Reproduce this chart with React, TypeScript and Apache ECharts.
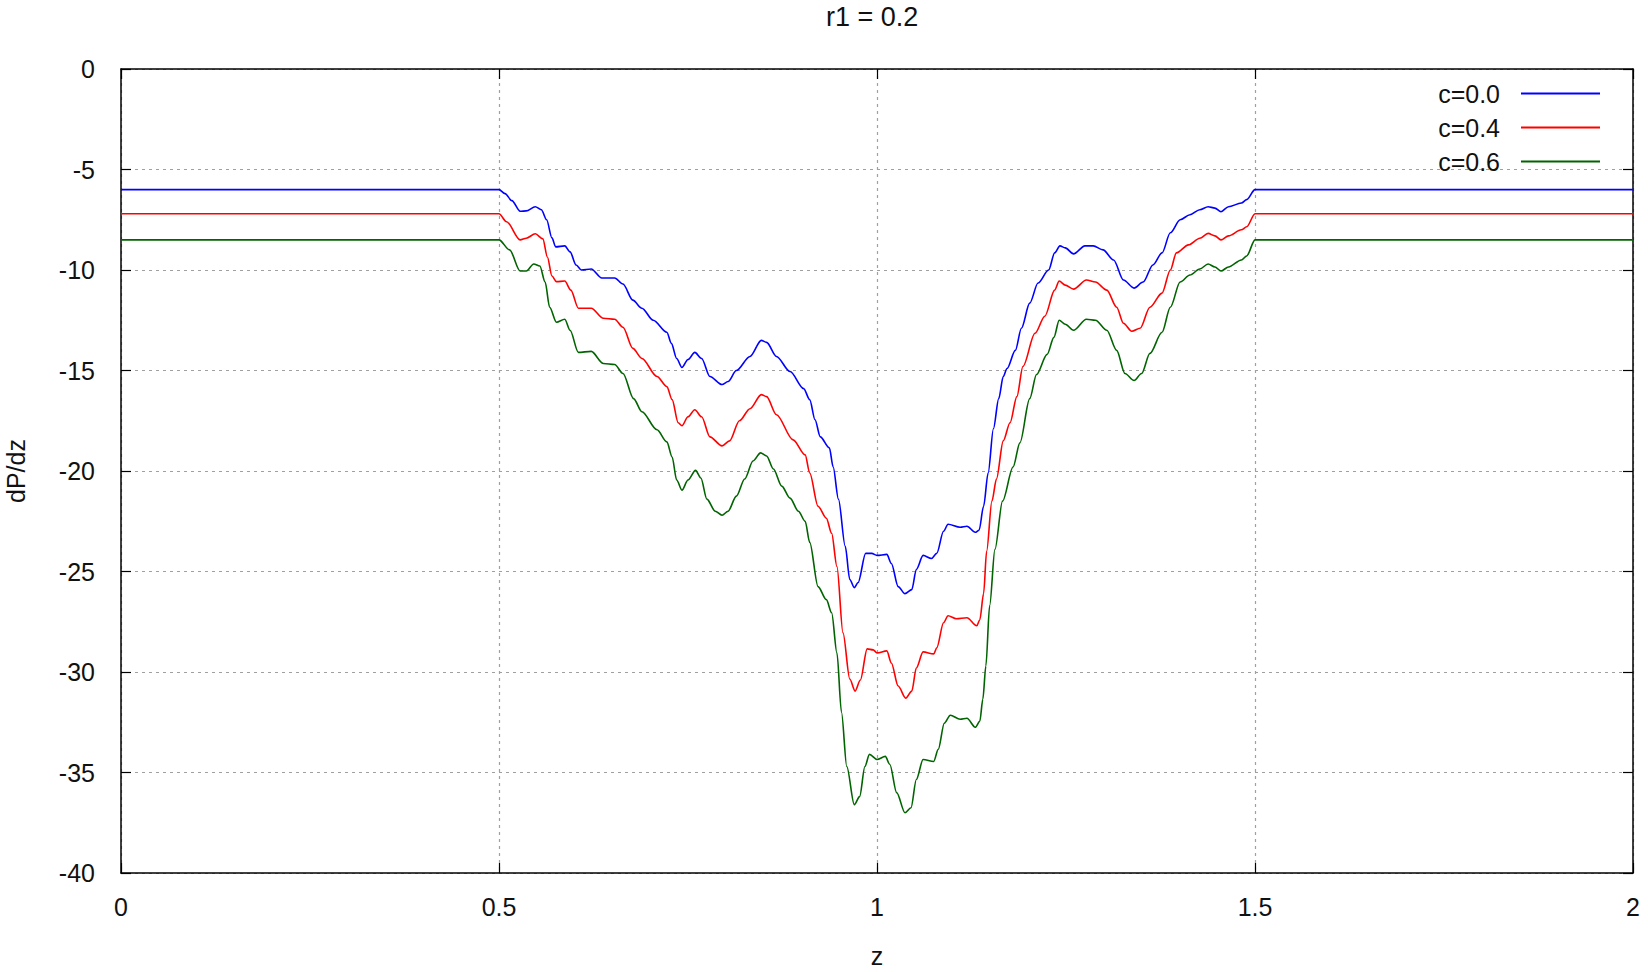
import React, { useEffect, useRef } from "react";
import * as echarts from "echarts";

const TITLE = "r1 = 0.2";
const X_NAME = "z";
const Y_NAME = "dP/dz";
const SERIES_NAMES = ["c=0.0", "c=0.4", "c=0.6"];
const SERIES_COLORS = ["#0000ff", "#ff0000", "#006400"];

const blueZ = [0, 0.5, 0.508, 0.517, 0.528, 0.536, 0.548, 0.556, 0.563, 0.57, 0.575, 0.587, 0.594, 0.602, 0.609, 0.622, 0.636, 0.653, 0.664, 0.677, 0.689, 0.704, 0.722, 0.728, 0.735, 0.742, 0.75, 0.759, 0.768, 0.779, 0.795, 0.803, 0.814, 0.832, 0.847, 0.854, 0.867, 0.885, 0.903, 0.911, 0.918, 0.925, 0.937, 0.942, 0.949, 0.958, 0.964, 0.97, 0.975, 0.985, 0.993, 1.0, 1.013, 1.019, 1.028, 1.037, 1.046, 1.052, 1.061, 1.072, 1.079, 1.088, 1.094, 1.11, 1.119, 1.13, 1.135, 1.141, 1.147, 1.154, 1.161, 1.167, 1.172, 1.183, 1.191, 1.202, 1.213, 1.227, 1.235, 1.242, 1.249, 1.26, 1.275, 1.286, 1.299, 1.313, 1.326, 1.34, 1.352, 1.365, 1.377, 1.388, 1.401, 1.414, 1.427, 1.438, 1.447, 1.455, 1.465, 1.482, 1.489, 1.5, 2];
const blueY = [-6.0, -6.0, -6.2, -6.55, -7.08, -7.06, -6.85, -7.0, -7.5, -8.4, -8.85, -8.8, -9.1, -9.75, -10.0, -9.95, -10.4, -10.4, -10.7, -11.5, -11.9, -12.5, -13.1, -13.65, -14.4, -14.85, -14.45, -14.1, -14.4, -15.3, -15.7, -15.55, -15.0, -14.3, -13.5, -13.6, -14.3, -15.05, -15.9, -16.45, -17.45, -18.3, -18.85, -19.8, -21.4, -23.75, -25.4, -25.8, -25.55, -24.1, -24.1, -24.2, -24.15, -24.6, -25.75, -26.1, -25.9, -24.9, -24.2, -24.35, -24.1, -23.0, -22.65, -22.8, -22.75, -23.05, -22.95, -21.75, -20.1, -17.9, -16.4, -15.3, -14.9, -14.0, -12.9, -11.65, -10.65, -10.0, -9.15, -8.8, -8.9, -9.2, -8.8, -8.8, -9.0, -9.5, -10.5, -10.9, -10.6, -9.75, -9.15, -8.15, -7.5, -7.25, -7.0, -6.85, -6.92, -7.1, -6.85, -6.67, -6.5, -6.0, -6.0];

const redZ = [0, 0.5, 0.51, 0.528, 0.536, 0.548, 0.558, 0.564, 0.57, 0.576, 0.587, 0.595, 0.605, 0.622, 0.638, 0.653, 0.664, 0.677, 0.689, 0.709, 0.722, 0.729, 0.737, 0.742, 0.75, 0.759, 0.768, 0.779, 0.795, 0.805, 0.818, 0.832, 0.847, 0.854, 0.867, 0.889, 0.905, 0.911, 0.922, 0.933, 0.94, 0.947, 0.955, 0.964, 0.971, 0.978, 0.987, 0.995, 1.0, 1.013, 1.019, 1.028, 1.038, 1.046, 1.052, 1.061, 1.075, 1.079, 1.088, 1.094, 1.105, 1.119, 1.132, 1.136, 1.141, 1.145, 1.152, 1.158, 1.167, 1.176, 1.185, 1.193, 1.209, 1.222, 1.235, 1.241, 1.249, 1.26, 1.277, 1.289, 1.304, 1.317, 1.326, 1.337, 1.348, 1.361, 1.377, 1.388, 1.396, 1.412, 1.427, 1.438, 1.447, 1.455, 1.465, 1.482, 1.489, 1.5, 2];
const redY = [-7.2, -7.2, -7.6, -8.5, -8.42, -8.2, -8.45, -9.35, -10.3, -10.58, -10.55, -11.0, -11.9, -11.9, -12.4, -12.45, -12.85, -13.9, -14.4, -15.3, -15.8, -16.45, -17.6, -17.75, -17.3, -16.95, -17.3, -18.3, -18.75, -18.5, -17.5, -16.9, -16.2, -16.3, -17.2, -18.45, -19.2, -20.1, -21.75, -22.35, -23.1, -24.75, -28.05, -30.35, -30.95, -30.4, -28.85, -28.9, -29.05, -28.95, -29.55, -30.7, -31.3, -30.95, -29.8, -29.0, -29.1, -28.8, -27.55, -27.2, -27.35, -27.3, -27.7, -27.4, -26.1, -24.0, -21.5, -20.4, -18.5, -17.6, -16.3, -14.8, -13.15, -12.3, -11.0, -10.55, -10.75, -10.95, -10.5, -10.6, -11.0, -11.85, -12.65, -13.05, -12.9, -11.85, -11.15, -10.0, -9.15, -8.75, -8.42, -8.18, -8.3, -8.5, -8.3, -8.0, -7.85, -7.2, -7.2];

const greenZ = [0, 0.5, 0.514, 0.528, 0.536, 0.546, 0.554, 0.561, 0.567, 0.576, 0.587, 0.594, 0.605, 0.622, 0.638, 0.653, 0.664, 0.678, 0.689, 0.709, 0.722, 0.729, 0.735, 0.742, 0.75, 0.76, 0.767, 0.775, 0.786, 0.795, 0.803, 0.814, 0.825, 0.836, 0.846, 0.854, 0.863, 0.874, 0.885, 0.896, 0.905, 0.911, 0.922, 0.933, 0.94, 0.947, 0.953, 0.96, 0.97, 0.977, 0.984, 0.99, 1.0, 1.011, 1.017, 1.026, 1.037, 1.045, 1.052, 1.061, 1.075, 1.081, 1.089, 1.097, 1.11, 1.119, 1.13, 1.136, 1.14, 1.144, 1.149, 1.156, 1.166, 1.18, 1.189, 1.202, 1.211, 1.225, 1.234, 1.241, 1.249, 1.26, 1.277, 1.289, 1.304, 1.317, 1.328, 1.34, 1.35, 1.361, 1.377, 1.388, 1.401, 1.414, 1.427, 1.438, 1.447, 1.455, 1.465, 1.482, 1.489, 1.5, 2];
const greenY = [-8.5, -8.5, -9.0, -10.05, -10.05, -9.7, -9.8, -10.6, -11.85, -12.6, -12.45, -13.0, -14.1, -14.05, -14.65, -14.7, -15.15, -16.4, -17.05, -17.95, -18.55, -19.3, -20.45, -20.95, -20.45, -19.97, -20.35, -21.4, -22.0, -22.2, -22.0, -21.25, -20.4, -19.5, -19.1, -19.25, -19.9, -20.75, -21.35, -22.0, -22.5, -23.55, -25.75, -26.4, -27.05, -29.05, -32.0, -34.7, -36.6, -36.2, -34.7, -34.1, -34.35, -34.2, -34.6, -36.0, -37.0, -36.75, -35.35, -34.35, -34.45, -33.85, -32.55, -32.15, -32.35, -32.3, -32.75, -32.45, -31.35, -29.7, -26.7, -23.9, -21.5, -19.8, -18.6, -16.4, -15.2, -14.2, -13.35, -12.5, -12.7, -13.0, -12.45, -12.5, -13.0, -14.0, -15.15, -15.5, -15.15, -14.15, -13.1, -11.85, -10.6, -10.25, -9.95, -9.7, -9.85, -10.05, -9.85, -9.5, -9.3, -8.5, -8.5];

const X_MIN = 0;
const X_MAX = 2;
const X_STEP = 0.5;
const Y_MIN = -40;
const Y_MAX = 0;
const Y_STEP = 5;

const FONT = "'Liberation Sans', Arial, Helvetica, sans-serif";
const TEXT = "#111111";

function pairs(zs: number[], ys: number[]): number[][] {
  return zs.map((z, i) => [z, ys[i]]);
}

export default function App() {
  const ref = useRef<HTMLDivElement>(null);

  useEffect(() => {
    if (!ref.current) return;
    const chart = echarts.init(ref.current, undefined, { renderer: "svg" });
    const seriesData = [pairs(blueZ, blueY), pairs(redZ, redY), pairs(greenZ, greenY)];

    const frameAxis = {
      axisLine: { show: true, onZero: false, lineStyle: { color: "#000", width: 1.5 } },
      axisTick: { show: true, inside: true, length: 10, lineStyle: { color: "#000", width: 1.2 } },
    };
    const gridLine = { show: true, lineStyle: { color: "#a0a0a0", type: [3, 4], width: 1.2 } };

    chart.setOption({
      animation: false,
      backgroundColor: "#ffffff",
      title: {
        text: TITLE,
        left: 826,
        top: 3,
        padding: 0,
        textStyle: { fontFamily: FONT, fontSize: 27, fontWeight: "normal", color: TEXT },
      },
      legend: {
        orient: "vertical",
        right: 43,
        top: 76,
        align: "right",
        icon: "rect",
        itemWidth: 79,
        itemHeight: 2,
        itemGap: 9,
        data: SERIES_NAMES,
        textStyle: {
          fontFamily: FONT,
          fontSize: 25,
          lineHeight: 25,
          color: TEXT,
          padding: [0, 16, 0, 0],
        },
      },
      grid: { left: 121, right: 15, top: 69, bottom: 99, containLabel: false, outerBoundsMode: "none" },
      xAxis: [
        {
          type: "value",
          min: X_MIN,
          max: X_MAX,
          interval: X_STEP,
          name: X_NAME,
          nameLocation: "middle",
          nameGap: 70,
          nameTextStyle: { fontFamily: FONT, fontSize: 25, color: TEXT },
          ...frameAxis,
          axisLabel: { margin: 21, fontFamily: FONT, fontSize: 25, color: TEXT },
          splitLine: gridLine,
        },
        {
          type: "value",
          position: "top",
          min: X_MIN,
          max: X_MAX,
          interval: X_STEP,
          ...frameAxis,
          axisLabel: { show: false },
          splitLine: { show: false },
        },
      ],
      yAxis: [
        {
          type: "value",
          min: Y_MIN,
          max: Y_MAX,
          interval: Y_STEP,
          name: Y_NAME,
          nameLocation: "middle",
          nameGap: 93,
          nameTextStyle: { fontFamily: FONT, fontSize: 25, color: TEXT },
          ...frameAxis,
          axisLabel: { margin: 26, fontFamily: FONT, fontSize: 25, color: TEXT },
          splitLine: gridLine,
        },
        {
          type: "value",
          position: "right",
          min: Y_MIN,
          max: Y_MAX,
          interval: Y_STEP,
          ...frameAxis,
          axisLabel: { show: false },
          splitLine: { show: false },
        },
      ],
      series: SERIES_NAMES.map((name, i) => ({
        name,
        type: "line",
        data: seriesData[i],
        symbol: "none",
        showSymbol: false,
        smooth: 0.3,
        smoothMonotone: "x",
        color: SERIES_COLORS[i],
        lineStyle: { color: SERIES_COLORS[i], width: 1.6 },
        z: 3,
      })),
    });

    return () => chart.dispose();
  }, []);

  return (
    <div
      ref={ref}
      style={{ position: "fixed", left: 0, top: 0, width: 1648, height: 972, background: "#fff" }}
    />
  );
}
